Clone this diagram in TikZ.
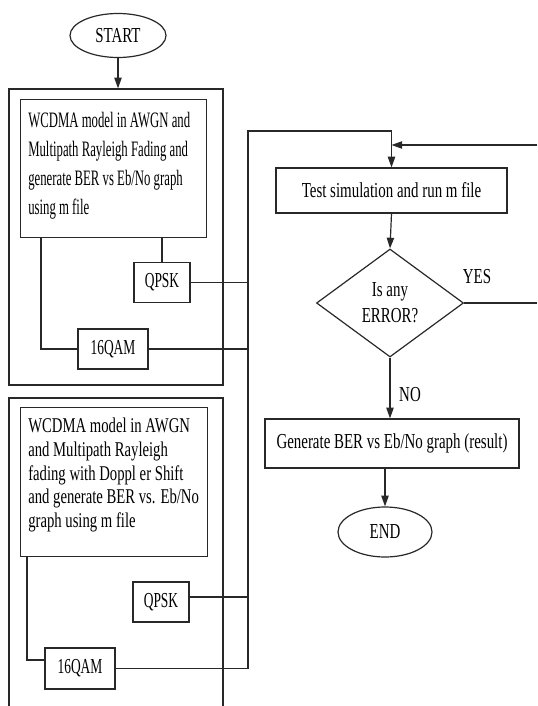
\documentclass[tikz,border=0pt]{standalone}
\usepackage{fontspec}
\setmainfont{Liberation Serif}[FakeStretch=0.70]
\newfontfamily\narrowfont{Liberation Serif}[FakeStretch=0.58]
\newfontfamily\modfont{Liberation Serif}[FakeStretch=0.63]
\usetikzlibrary{arrows.meta,positioning,shapes.geometric}
\definecolor{lnk}{RGB}{40,40,40}
\tikzset{
  ln/.style={draw=lnk, line width=0.9pt},
  arr/.style={ln, -{Triangle[length=8pt,width=5.5pt]}},
  term/.style={ellipse, ln, inner sep=0pt, font=\fontsize{16}{19}\selectfont},
  proc/.style={rectangle, ln, inner sep=0pt, font=\fontsize{16}{19}\selectfont},
  modbox/.style={rectangle, ln, inner sep=0pt, minimum height=30pt, font=\modfont\fontsize{16}{19}\selectfont},
  grp/.style={rectangle, ln, inner sep=0pt},
  lbl/.style={inner sep=0pt, font=\fontsize{16}{19}\selectfont},
  desc/.style={anchor=north west, inner sep=0pt, align=left},
}

\begin{document}
\begin{tikzpicture}[x=0.75pt, y=-0.75pt]
\useasboundingbox (0,0) rectangle (537,706);
% start and first model group
\node[term, minimum width=72pt, minimum height=33pt] (start) at (118,35.5) {START};
\node[grp, minimum width=160.5pt, minimum height=222pt] (grp1) at (116,237) {};
\node[proc, anchor=north west, minimum width=139.5pt, minimum height=103.5pt] (m1) at (20,99) {};
\node[desc, font=\narrowfont\fontsize{16.5}{21.75}\selectfont] (m1txt) at (28,112)
  {WCDMA model in AWGN and\\Multipath Rayleigh Fading and\\generate BER vs Eb/No graph\\using m file};
\node[modbox, minimum width=42pt] (q1) at (162,282.5) {QPSK};
\node[modbox, minimum width=52.5pt] (q16a) at (113,349) {16QAM};
\draw[arr] (start.south) -- (start.south |- grp1.north);
\draw[ln] (m1.south -| q1) -- (q1.north);
\draw[ln] ([xshift=15.75pt]m1.south west) |- (q16a.west);

% second model group (runs off the page)
\draw[ln] (9,706) |- (223,398) -- (223,706);
\node[proc, anchor=north west, minimum width=140.25pt, minimum height=111.75pt] (m2) at (20,407) {};
\node[desc, font=\fontsize{15.75}{17.75}\selectfont] (m2txt) at (28,418)
  {WCDMA model in AWGN\\and Multipath Rayleigh\\fading with Doppl er Shift\\and generate BER vs. Eb/No\\graph using m file};
\node[modbox, minimum width=42pt] (q2) at (161,602) {QPSK};
\node[modbox, minimum width=52.5pt, minimum height=30.75pt] (q16b) at (80,668.5) {16QAM};
\draw[ln] ([xshift=5.25pt]m2.south west) |- ([yshift=6.4pt]q16b.west);

% right column
\node[proc, minimum width=173.25pt, minimum height=33.75pt] (test) at (391.5,190.5) {Test simulation and run m file};
\node[diamond, ln, aspect=1.36, inner sep=0pt, minimum width=110.25pt, minimum height=81pt,
      align=center, font=\fontsize{16}{19.5}\selectfont] (dec) at (390,303) {Is any\\ERROR?};
\node[proc, minimum width=190.5pt, minimum height=36.75pt] (gen) at (392,443.5) {Generate BER vs Eb/No graph (result)};
\node[term, minimum width=70.5pt, minimum height=37.5pt] (end) at (385,532) {END};
\node[lbl] (yes) at (477,277) {YES};
\node[lbl] (no) at (410,395) {NO};

% bus to the test block
\coordinate (bus) at (248,131);
\draw[ln] (q1.east) -- (q1.east -| bus);
\draw[ln] (q16a.east) -- (q16a.east -| bus);
\draw[ln] ([yshift=3.75pt]q2.east) -- ([yshift=3.75pt]q2.east -| bus);
\draw[ln] (q16b.east) -- (q16b.east -| bus);
\draw[arr] (bus |- q16b.east) -- (bus) -| (test.north);

\draw[arr] (test.south) -- (dec.north);
\draw[arr] (dec.south) -- (dec.south |- gen.north);
\draw[arr] (end.north |- gen.south) -- (end.north);

% error loop, leaves the page on the right
\coordinate (fbout) at (537,303);
\coordinate (fbin) at (537,145);
\draw[ln] (dec.east) -- (fbout);
\draw[arr] (fbin) -- (fbin -| test.north);
\end{tikzpicture}
\end{document}
